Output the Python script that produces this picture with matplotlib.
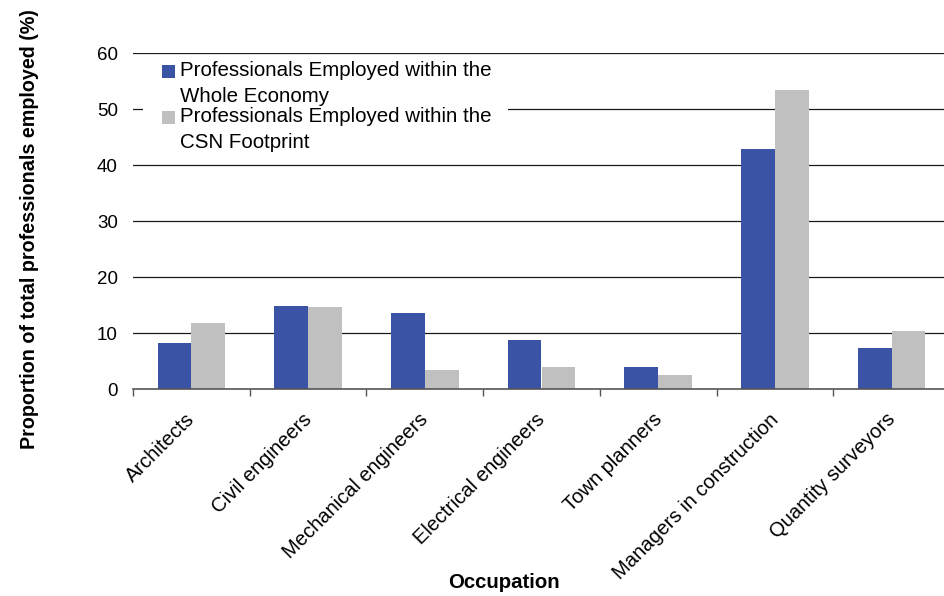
import matplotlib
matplotlib.use("Agg")
import matplotlib.pyplot as plt
from matplotlib.patches import Rectangle
from matplotlib.transforms import ScaledTranslation
import numpy as np

plt.rcParams['font.family'] = ['Liberation Sans', 'DejaVu Sans']

categories = ["Architects", "Civil engineers", "Mechanical engineers",
              "Electrical engineers", "Town planners",
              "Managers in construction", "Quantity surveyors"]
whole_economy = [8.3, 14.8, 13.6, 8.8, 3.9, 42.9, 7.3]
csn_footprint = [11.8, 14.6, 3.4, 4.0, 2.5, 53.4, 10.4]
series_labels = ["Professionals Employed within the\nWhole Economy",
                 "Professionals Employed within the\nCSN Footprint"]
yticks = [0, 10, 20, 30, 40, 50, 60]

BLUE = "#3A53A4"
GRAY = "#C0C0C0"

W, H = 944, 596
fig = plt.figure(figsize=(W / 100, H / 100), dpi=100)

def fx(px):
    return px / W

def fy(py):
    return 1 - py / H

left_px, right_px, top_px, bot_px = 133, 950, 53, 389
ax = fig.add_axes([fx(left_px), fy(bot_px), (right_px - left_px) / W, (bot_px - top_px) / H])

x = np.arange(len(categories))
bw = 0.29
ax.bar(x - bw / 2, whole_economy, width=bw, color=BLUE, zorder=3)
ax.bar(x + bw / 2, csn_footprint, width=bw, color=GRAY, zorder=3)

ax.set_xlim(-0.5, len(categories) - 0.5)
ax.set_ylim(0, 60)
ax.set_yticks(yticks)
ax.set_yticklabels([str(v) for v in yticks], fontsize=13.5)
ax.tick_params(axis='y', length=0, pad=11)
for v in yticks[1:]:
    ax.axhline(v, color='#1a1a1a', lw=0.9, zorder=1)

ax.set_xticks(x)
ax.set_xticklabels(categories, rotation=45, ha='right', va='top',
                   rotation_mode='anchor', fontsize=14.5)
ax.tick_params(axis='x', which='major', length=0, pad=15)
shift = ScaledTranslation(-6 / 100, 0, fig.dpi_scale_trans)
for lab in ax.get_xticklabels():
    lab.set_transform(lab.get_transform() + shift)
ax.set_xticks(np.arange(len(categories) + 1) - 0.5, minor=True)
ax.tick_params(axis='x', which='minor', length=5, width=1, color='#555555', direction='out')

for s in ['top', 'right', 'left']:
    ax.spines[s].set_visible(False)
ax.spines['bottom'].set_color('#555555')
ax.spines['bottom'].set_linewidth(1.2)
ax.spines['bottom'].set_zorder(4)

# Legend (manual, handles aligned with the first text line of each entry)
fig.patches.append(Rectangle((fx(143), fy(160)), fx(508) - fx(143), fy(55) - fy(160),
                             transform=fig.transFigure, facecolor='white', edgecolor='none', zorder=5))
for i, (lab, col) in enumerate(zip(series_labels, [BLUE, GRAY])):
    ytop = 71 + i * 46
    fig.patches.append(Rectangle((fx(162), fy(ytop + 6.5)), fx(13), 13 / H,
                                 transform=fig.transFigure, facecolor=col, edgecolor='none', zorder=6))
    for j, ln in enumerate(lab.split("\n")):
        fig.text(fx(180), fy(ytop + j * 26), ln, fontsize=14.8, va='center', ha='left', zorder=7)

fig.text(fx(30), fy(229), "Proportion of total professionals employed (%)",
         rotation=90, fontsize=14.2, fontweight='bold', ha='center', va='center')
fig.text(fx(504), fy(583), "Occupation", fontsize=14.7, fontweight='bold', ha='center', va='center')

fig.savefig("out.png", dpi=100)
